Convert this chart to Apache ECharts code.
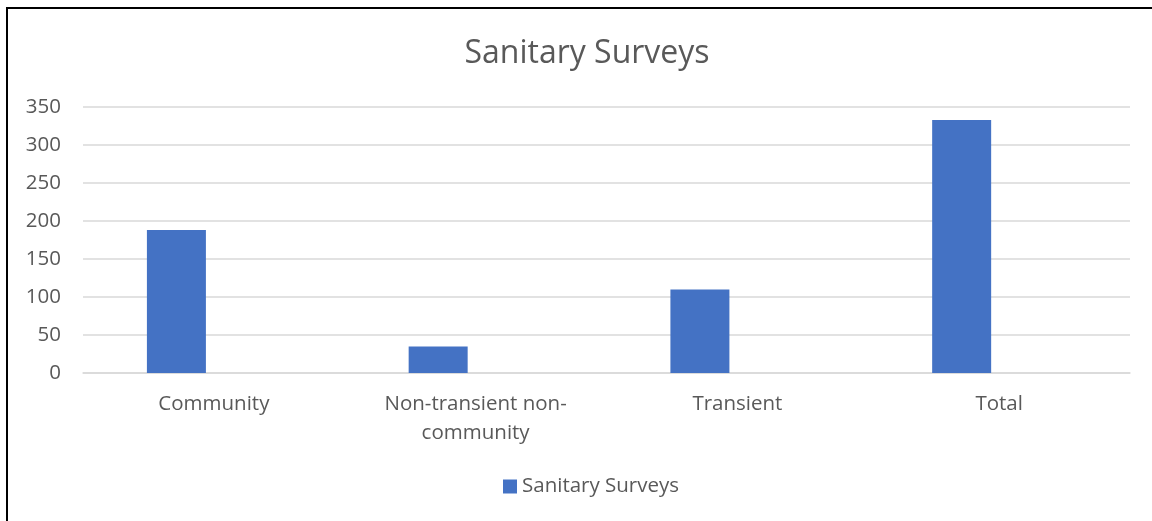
<!DOCTYPE html>
<html>
<head>
<meta charset="utf-8">
<script src="https://cdn.jsdelivr.net/npm/echarts@6/dist/echarts.min.js"></script>
<style>
  html, body { margin: 0; padding: 0; background: #fff; }
  #chart { width: 1152px; height: 521px; }
</style>
</head>
<body>
<div id="chart"></div>
<script>
// data
var categories = ['Community', 'Non-transient non-community', 'Transient', 'Total'];
var surveys = [188, 35, 110, 333];
// Excel left a slot for a second (empty) series, so bars sit left of centre
var emptySlot = [null, null, null, null];
var yTicks = { min: 0, max: 350, interval: 50 };

var font = '"Open Sans", "Noto Sans", sans-serif';
var grey = '#595959';

var chart = echarts.init(document.getElementById('chart'));
chart.setOption({
  animation: false,
  textStyle: { fontFamily: font },
  title: {
    text: 'Sanitary Surveys',
    left: 582,
    textAlign: 'center',
    top: 33,
    textStyle: { color: grey, fontSize: 32, fontWeight: 'normal', fontFamily: font },
  },
  legend: {
    data: ['Sanitary Surveys'],
    bottom: 19,
    left: 498,
    itemWidth: 14,
    itemHeight: 14,
    itemGap: 6,
    icon: 'rect',
    textStyle: { color: grey, fontSize: 20.5, fontFamily: font },
  },
  grid: {
    left: 83,
    right: 22,
    top: 107,
    bottom: 148,
  },
  xAxis: {
    type: 'category',
    data: categories,
    axisLine: { lineStyle: { color: '#d9d9d9', width: 1.5 } },
    axisTick: { show: false },
    axisLabel: {
      color: grey,
      fontSize: 20.5,
      margin: 17,
      lineHeight: 29,
      interval: 0,
      formatter: function (v) {
        return v.replace('non-community', 'non-\ncommunity');
      },
    },
  },
  yAxis: {
    type: 'value',
    min: yTicks.min,
    max: yTicks.max,
    interval: yTicks.interval,
    axisLine: { show: false },
    axisTick: { show: false },
    axisLabel: { color: grey, fontSize: 20.5, margin: 22 },
    splitLine: { lineStyle: { color: '#d9d9d9', width: 1.5 } },
  },
  series: [
    {
      name: 'Sanitary Surveys',
      type: 'bar',
      data: surveys,
      barWidth: 59,
      barGap: '27%',
      itemStyle: { color: '#4472c4' },
    },
    {
      name: 'empty',
      type: 'bar',
      data: emptySlot,
      barWidth: 59,
      itemStyle: { color: '#ed7d31' },
    },
  ],
  graphic: [
    {
      type: 'rect',
      shape: { x: 7, y: 8, width: 1300, height: 700 },
      style: { fill: 'none', stroke: '#000', lineWidth: 2 },
      silent: true,
    },
  ],
});
</script>
</body>
</html>
